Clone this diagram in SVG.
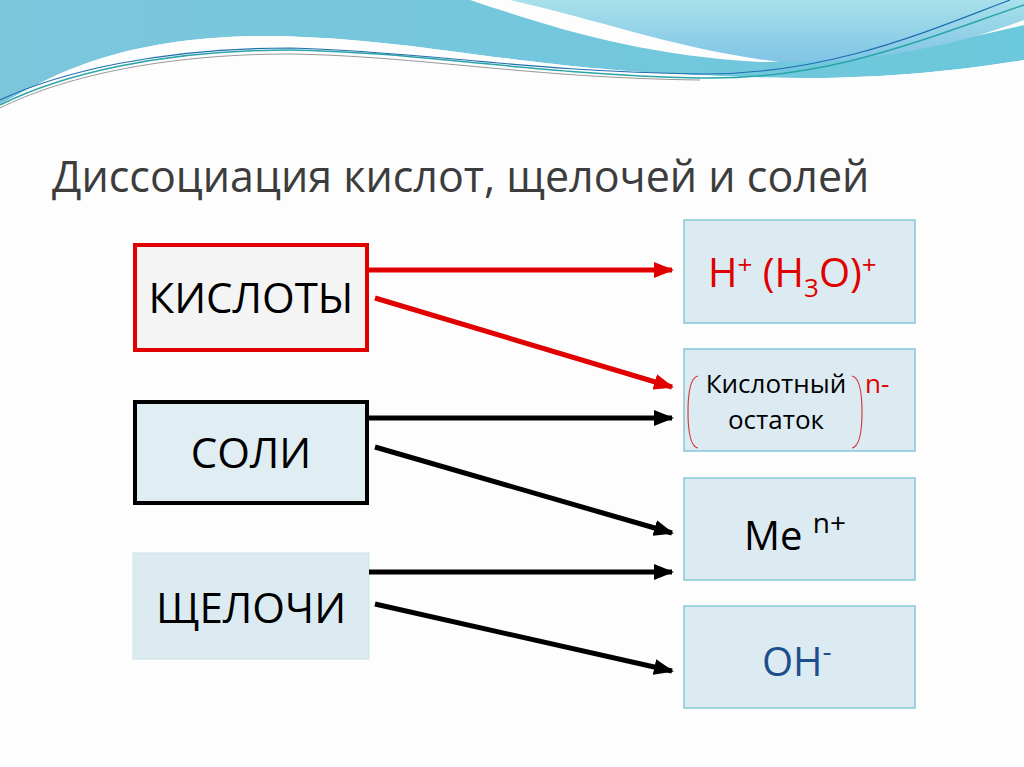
<svg xmlns="http://www.w3.org/2000/svg" width="1024" height="767" viewBox="0 0 1024 767">
<defs>
<style>
text{font-family:"Open Sans","Liberation Sans",sans-serif}
.rb{fill:#dcebf2;stroke:#86c6d6;stroke-width:1.5}
.big{font-size:42px;fill:#000}
</style>
<linearGradient id="w1" x1="0" y1="0" x2="1" y2="0"><stop offset="0" stop-color="#7cc6dc"/><stop offset="1" stop-color="#6cc8dc"/></linearGradient>
<linearGradient id="w2" x1="0" y1="0" x2="0" y2="1"><stop offset="0" stop-color="#a8e0ea"/><stop offset="1" stop-color="#80c4e6"/></linearGradient>
<marker id="ar" markerWidth="20" markerHeight="16" refX="18" refY="8" orient="auto" markerUnits="userSpaceOnUse"><path d="M0,0L20,8L0,16z" fill="#e00000"/></marker>
<marker id="ab" markerWidth="20" markerHeight="16" refX="18" refY="8" orient="auto" markerUnits="userSpaceOnUse"><path d="M0,0L20,8L0,16z" fill="#000"/></marker>
</defs>
<rect width="1024" height="767" fill="#fdfdfd"/>
<g id="waves">
<path d="M0,0H1024V60C900,80 800,80 720,76C520,70 420,38 270,36C130,36 60,70 0,105Z" fill="url(#w1)"/>
<path d="M470,0C560,30 640,55 760,62C860,62 960,40 1024,25V0Z" fill="#fdfdfd"/>
<path d="M510,0H1024V20C960,45 860,65 780,62C680,50 600,20 510,0Z" fill="url(#w2)"/>
<path d="M0,105C60,70 130,36 270,36C420,38 520,70 720,76C800,80 900,80 1024,60V767H0Z" fill="#fdfdfd"/>
<path d="M0,105C60,75 160,50 290,50C420,52 530,74 700,78C830,80 920,40 1024,5" fill="none" stroke="#2aa5a8" stroke-width="1.5"/>
<path d="M0,100C60,72 160,48 290,48C420,51 530,72 700,74C830,75 930,30 1010,0" fill="none" stroke="#1f6fb0" stroke-width="1.2"/>
<path d="M0,108C60,78 160,54 290,54C420,56 530,78 700,80" fill="none" stroke="#999" stroke-width="1"/>
</g>
<text x="52" y="192" font-size="43" fill="#3c3c3c">Диссоциация кислот, щелочей и солей</text>
<g id="kisloty"><rect x="135" y="245" width="232" height="105" fill="#f4f4f4" stroke="#e00000" stroke-width="4"/><text x="251" y="313" class="big" text-anchor="middle">КИСЛОТЫ</text></g>
<g id="soli"><rect x="135" y="402" width="232" height="101" fill="#e0edf2" stroke="#000" stroke-width="4"/><text x="251" y="468" class="big" text-anchor="middle">СОЛИ</text></g>
<g id="shcheloch"><rect x="133" y="553" width="236" height="106" fill="#dcebf2" stroke="#cfe3ea" stroke-width="1"/><text x="251" y="623" class="big" text-anchor="middle">ЩЕЛОЧИ</text></g>
<g id="h"><rect class="rb" x="684" y="220" width="231" height="103"/><text x="708" y="287" font-size="40" fill="#e00000">H<tspan font-size="26" dy="-13">+</tspan><tspan dy="13"> (H</tspan><tspan font-size="26" dy="10">3</tspan><tspan dy="-10">O)</tspan><tspan font-size="26" dy="-13">+</tspan></text></g>
<g id="ostatok"><rect class="rb" x="684" y="349" width="231" height="102"/>
<path d="M698,376Q688,378 688,412Q688,446 698,448M852,376Q862,378 862,412Q862,446 852,448" fill="none" stroke="#d04040" stroke-width="1.2"/>
<text x="776" y="393" font-size="26" text-anchor="middle">Кислотный</text><text x="776" y="429" font-size="26" text-anchor="middle">остаток</text>
<text x="865" y="393" font-size="26" fill="#e00000">n-</text></g>
<g id="me"><rect class="rb" x="684" y="478" width="231" height="102"/><text x="744" y="550" font-size="40">Me <tspan font-size="28" dy="-17">n+</tspan></text></g>
<g id="oh"><rect class="rb" x="684" y="606" width="231" height="102"/><text x="762" y="676" font-size="40" fill="#1f4e8c">OH<tspan font-size="28" dy="-15">-</tspan></text></g>
<g id="connectors" stroke-width="5" fill="none">
<line x1="367" y1="270" x2="672" y2="270" stroke="#e00000" marker-end="url(#ar)"/>
<line x1="375" y1="298" x2="672" y2="387" stroke="#e00000" marker-end="url(#ar)"/>
<line x1="367" y1="418" x2="672" y2="418" stroke="#000" marker-end="url(#ab)"/>
<line x1="375" y1="447" x2="672" y2="533" stroke="#000" marker-end="url(#ab)"/>
<line x1="369" y1="572" x2="672" y2="572" stroke="#000" marker-end="url(#ab)"/>
<line x1="375" y1="604" x2="672" y2="671" stroke="#000" marker-end="url(#ab)"/>
</g>
</svg>
